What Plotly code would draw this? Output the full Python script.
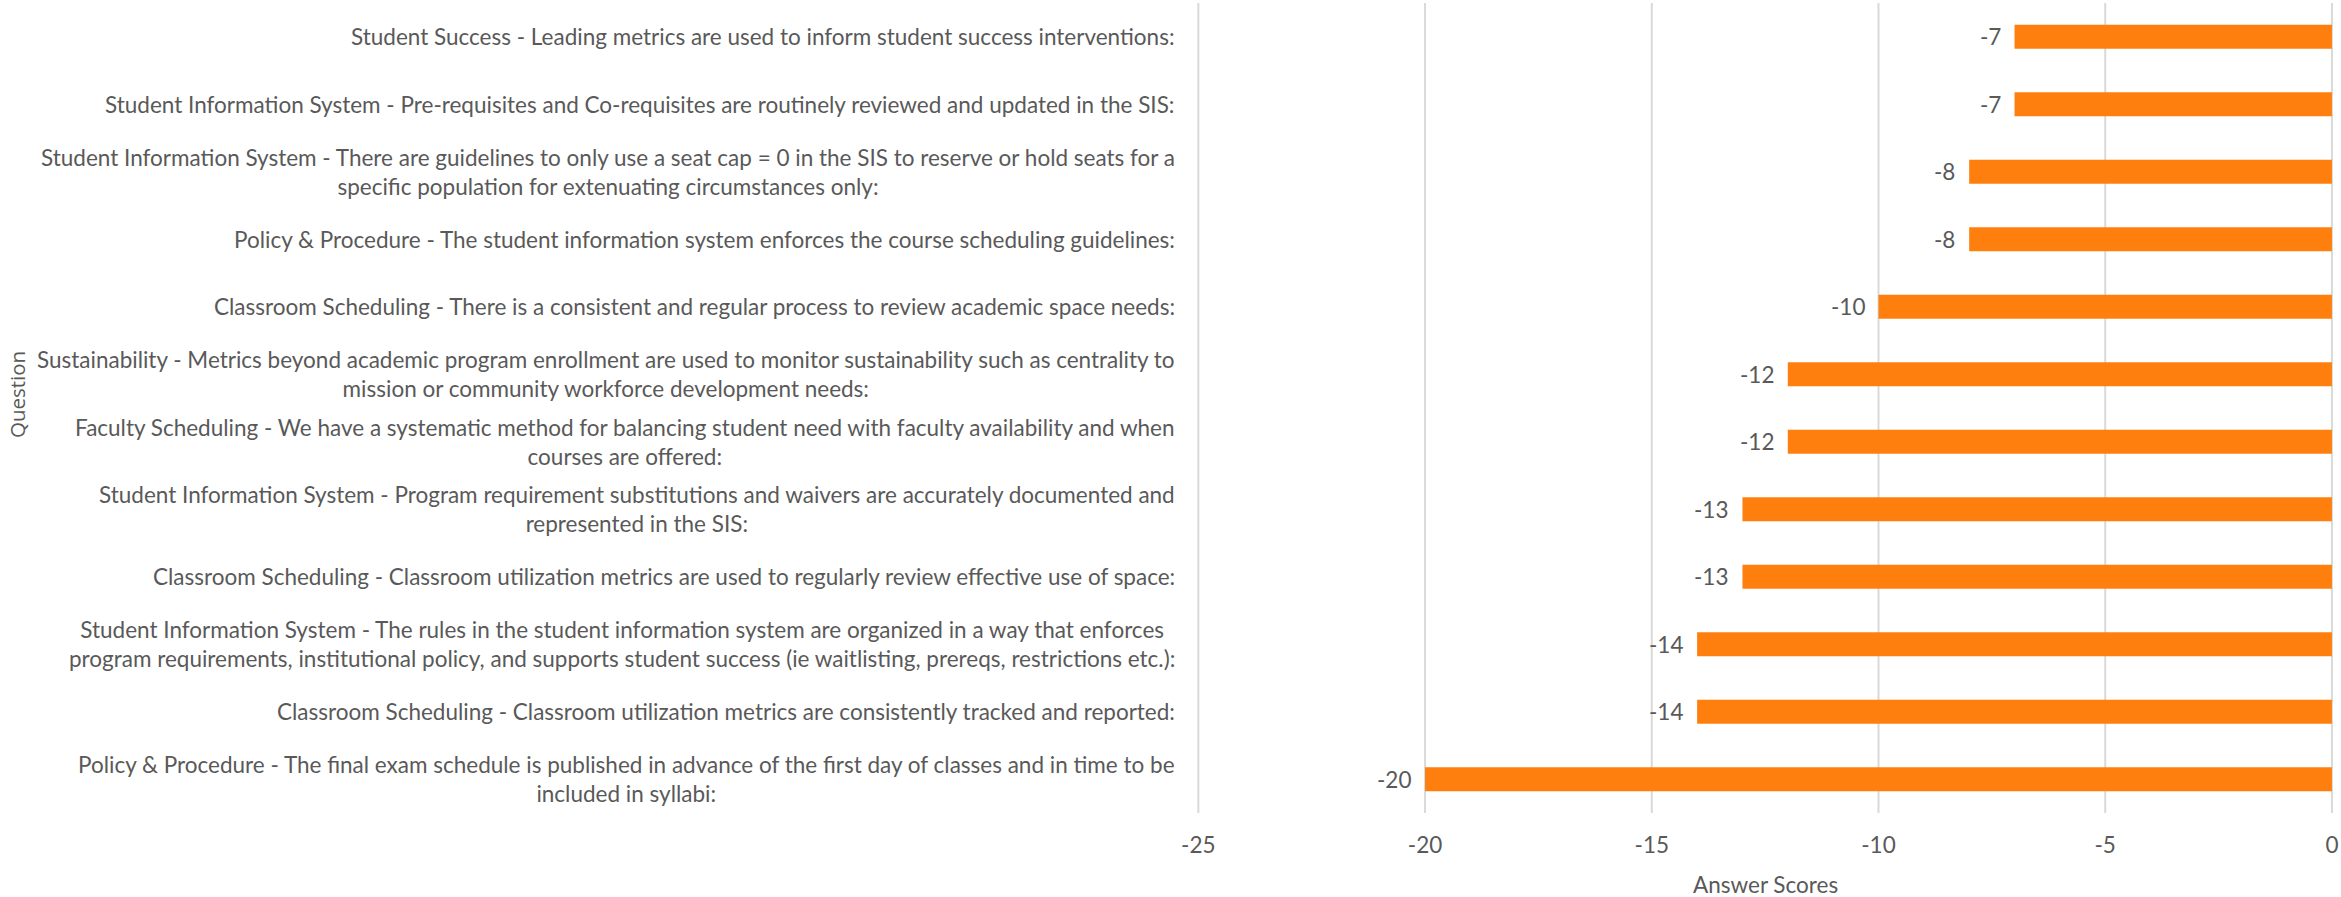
import plotly.graph_objects as go

questions = [
    "Student Success - Leading metrics are used to inform student success interventions:",
    "Student Information System - Pre-requisites and Co-requisites are routinely reviewed and updated in the SIS:",
    "Student Information System - There are guidelines to only use a seat cap = 0 in the SIS to reserve or hold seats for a<br>specific population for extenuating circumstances only:",
    "Policy & Procedure - The student information system enforces the course scheduling guidelines:",
    "Classroom Scheduling - There is a consistent and regular process to review academic space needs:",
    "Sustainability - Metrics beyond academic program enrollment are used to monitor sustainability such as centrality to<br>mission or community workforce development needs:",
    "Faculty Scheduling - We have a systematic method for balancing student need with faculty availability and when<br>courses are offered:",
    "Student Information System - Program requirement substitutions and waivers are accurately documented and<br>represented in the SIS:",
    "Classroom Scheduling - Classroom utilization metrics are used to regularly review effective use of space:",
    "Student Information System - The rules in the student information system are organized in a way that enforces<br>program requirements, institutional policy, and supports student success (ie waitlisting, prereqs, restrictions etc.):",
    "Classroom Scheduling - Classroom utilization metrics are consistently tracked and reported:",
    "Policy & Procedure - The final exam schedule is published in advance of the first day of classes and in time to be<br>included in syllabi:",
]
scores = [-7, -7, -8, -8, -10, -12, -12, -13, -13, -14, -14, -20]
x_ticks = [-25, -20, -15, -10, -5, 0]

keys = [f"q{i}" for i in range(len(questions))]

TXT = "#595959"
FONT = "Lato"
FS = 22.5
GRID = "#D9D9D9"

fig = go.Figure()
fig.add_trace(go.Bar(
    x=scores, y=keys, orientation="h",
    marker=dict(color="#FF7F0E", line=dict(width=0)),
    hoverinfo="x",
))

# vertical gridlines at each tick value (below the bars)
shapes = [
    dict(type="line", xref="x", yref="paper", x0=t, x1=t, y0=0, y1=1,
         line=dict(color=GRID, width=2), layer="below")
    for t in x_ticks
]

annotations = []
for k, q in zip(keys, questions):
    annotations.append(dict(
        x=0, xref="paper", y=k, yref="y", text=q, showarrow=False,
        xanchor="right", yanchor="middle", align="center", xshift=24,
        font=dict(family=FONT, size=FS, color=TXT),
    ))
for k, v in zip(keys, scores):
    annotations.append(dict(
        x=v, xref="x", y=k, yref="y", text=str(v), showarrow=False,
        xanchor="right", yanchor="middle", xshift=-12,
        font=dict(family=FONT, size=FS, color=TXT),
    ))
annotations.append(dict(
    x=-12.5, xref="x", y=0, yref="paper", yanchor="middle", yshift=-71,
    text="Answer Scores", showarrow=False,
    font=dict(family=FONT, size=FS, color=TXT),
))
annotations.append(dict(
    x=0, xref="paper", xshift=-1136, xanchor="center", y=0.516, yref="paper",
    yanchor="middle", text="Question", textangle=-90, showarrow=False,
    font=dict(family="Open Sans", size=20.5, color=TXT),
))

fig.update_layout(
    width=2341, height=897,
    margin=dict(l=1153, r=0, t=3, b=84),
    paper_bgcolor="white", plot_bgcolor="white",
    bargap=0.645,
    showlegend=False,
    annotations=annotations,
    shapes=shapes,
    xaxis=dict(
        range=[-26, 0.2], tickvals=x_ticks, ticktext=[str(t) for t in x_ticks],
        showgrid=False, zeroline=False,
        showline=False, ticks="", ticklabelstandoff=16,
        ticklabeloverflow="allow",
        tickfont=dict(family=FONT, size=FS, color=TXT),
    ),
    yaxis=dict(
        categoryorder="array", categoryarray=keys, autorange="reversed",
        showticklabels=False, showgrid=False, zeroline=False, showline=False,
        ticks="",
    ),
)

fig.write_html(
    "out.html",
    config={"displayModeBar": False},
    post_script="document.body.style.margin='0';document.body.style.overflow='hidden';",
)
